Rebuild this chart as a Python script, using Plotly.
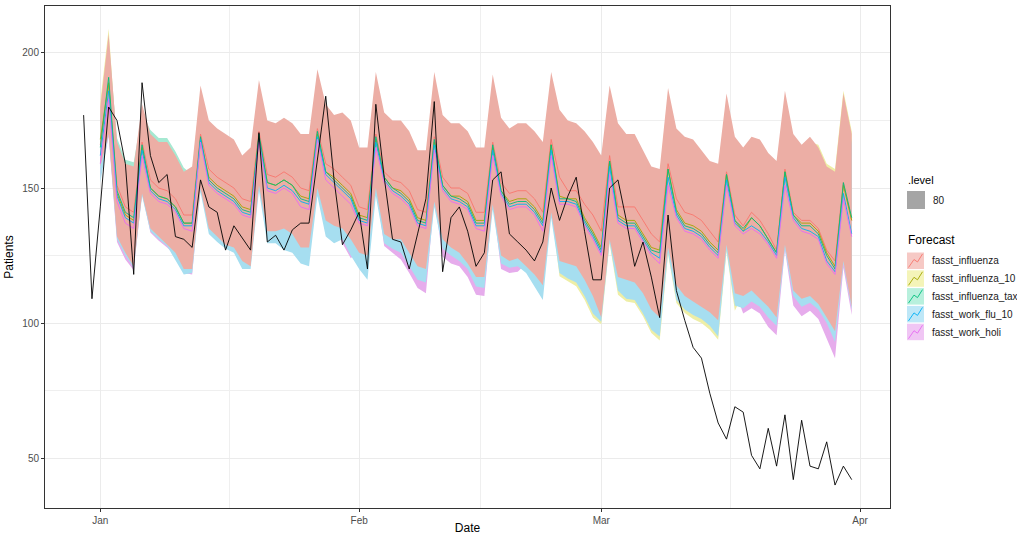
import plotly.graph_objects as go
import pandas as pd

# ---------------- data ----------------
actual_start = "2019-12-30"
forecast_start = "2020-01-01"

patients = [177, 109, 143, 180, 175, 159, 118, 189, 162, 152,
            155, 132, 131, 128, 153, 143, 141, 127, 136, 131.5,
            127, 170.5, 130, 132.5, 127, 134.5, 137, 137, 160, 184,
            153, 129, 134.5, 141, 120, 181, 154, 131, 130, 120,
            133, 146, 182, 119, 139, 143, 134, 121, 126, 153,
            156, 133, 130, 127, 123, 130, 150, 138, 147, 154,
            134, 116, 116, 150, 153, 138, 121, 130, 117, 102,
            140, 112, 101, 91, 87, 74, 63, 57, 69, 67,
            51, 46, 61, 47, 66, 42, 64, 47, 46, 56,
            40, 47, 42]

# fasst_influenza
infl_med = [166, 188, 151, 143, 141, 167, 153, 150, 149, 146,
            140, 140, 170, 157, 154, 152, 150, 146, 145, 171,
            155, 154, 156, 154, 150, 149, 172, 159, 157, 154,
            151, 143, 142, 170, 156, 153, 152, 149, 142, 141,
            169, 154, 150, 150, 148, 141, 141, 167, 152, 148,
            149, 149, 146, 141, 168, 154, 149, 149, 144, 140,
            134, 162, 143, 143, 143, 138, 133, 130, 159, 146,
            141, 140, 138, 134, 130, 156, 140, 136, 141, 138,
            133, 127, 157, 141, 138, 138, 135, 127, 123, 152,
            138]
infl_hi = [180, 207, 167, 159, 158, 181, 170, 167, 167, 162,
           156, 158, 188, 175, 172, 170, 168, 162, 165, 190,
           175, 174, 176, 174, 170, 170, 194, 181, 177, 178,
           175, 165, 165, 193, 178, 175, 175, 171, 164, 164,
           193, 177, 174, 174, 171, 165, 165, 192, 176, 172,
           174, 174, 171, 167, 193, 179, 175, 174, 171, 167,
           162, 188, 174, 170, 170, 164, 158, 157, 187, 172,
           169, 168, 164, 160, 159, 185, 169, 165, 169, 168,
           163, 160, 186, 170, 166, 169, 165, 158, 156, 185,
           170]
infl_lo = [158, 170, 132, 126, 121, 148, 135, 132, 129, 126,
           120, 120, 150, 135, 132, 129, 128, 123, 121, 151,
           134, 134, 135, 133, 128, 128, 150, 138, 136, 135,
           131, 126, 125, 150, 133, 131, 131, 126, 121, 120,
           145, 131, 128, 126, 122, 117, 117, 144, 125, 123,
           124, 121, 118, 114, 141, 123, 122, 121, 116, 110,
           102, 131, 117, 116, 115, 111, 105, 102, 128, 114,
           110, 108, 106, 104, 101, 129, 111, 110, 112, 109,
           106, 102, 129, 112, 109, 110, 107, 102, 97, 123,
           106]

# fasst_influenza_10
infl10_med = [168, 189, 148, 140, 138, 165, 150, 147, 146, 143,
              137, 137, 168, 154, 151, 149, 147, 143, 142, 169,
              152, 151, 153, 151, 147, 146, 170, 156, 154, 151,
              148, 140, 139, 168, 154, 150, 149, 146, 139, 138,
              167, 151, 147, 147, 145, 138, 138, 165, 149, 145,
              146, 146, 143, 138, 166, 147, 146, 146, 139, 134,
              128, 160, 140, 138, 138, 133, 128, 127, 157, 142,
              137, 136, 134, 130, 127, 155, 138, 134, 139, 136,
              131, 126, 156, 140, 137, 137, 134, 126, 121, 151,
              138]
infl10_hi = [182, 209, 165, 157, 156, 179, 168, 165, 165, 160,
             154, 156, 186, 173, 170, 168, 166, 160, 163, 188,
             173, 172, 174, 172, 168, 168, 192, 179, 175, 176,
             173, 163, 163, 191, 176, 173, 173, 169, 162, 162,
             191, 175, 172, 172, 169, 163, 163, 190, 174, 170,
             172, 172, 169, 165, 191, 177, 173, 172, 169, 165,
             160, 186, 172, 168, 168, 162, 156, 155, 185, 170,
             167, 166, 162, 158, 157, 183, 167, 163, 167, 166,
             161, 158, 184, 168, 164, 167, 166, 159, 157, 186,
             171]
infl10_lo = [159, 171, 133, 127, 122, 149, 136, 133, 130, 127,
             121, 121, 151, 136, 133, 130, 129, 124, 122, 152,
             135, 135, 136, 134, 129, 129, 151, 139, 137, 136,
             132, 127, 126, 151, 134, 132, 132, 127, 122, 121,
             146, 132, 129, 127, 123, 118, 118, 145, 126, 124,
             125, 122, 119, 115, 142, 117.3, 115.4, 113.6, 108.6, 102,
             99.5, 129.5, 110.5, 108, 107.4, 102.5, 96.3, 93.5, 125.5, 107.4,
             103.7, 101.5, 100, 97.5, 93.8, 126.5, 104.5, 111, 113, 110,
             107, 103, 130, 113, 110, 111, 108, 103, 98, 124,
             107]

# fasst_influenza_tax
tax_med = [165, 191, 149, 141, 139, 166, 150, 147, 146, 143,
           137, 137, 169, 153, 150, 148, 146, 142, 141, 170,
           152, 151, 153, 151, 146, 145, 171, 156, 153, 150,
           147, 139, 138, 169, 154, 150, 148, 145, 138, 137,
           168, 151, 147, 146, 144, 137, 137, 166, 149, 144,
           145, 145, 142, 137, 166, 146, 146, 145, 138, 133,
           127, 160, 139, 137, 137, 132, 127, 126, 157, 141,
           136, 135, 133, 129, 126, 155, 138, 135, 139, 136,
           131, 126, 156, 140, 136, 136, 133, 125, 120, 152,
           139]
tax_hi = [177, 204, 168.5, 160.5, 159.5, 178, 171.5, 168.5, 168.5, 163.5,
          157.5, 155, 185, 172, 169, 167, 165, 159, 162, 187,
          172, 171, 173, 171, 167, 167, 191, 178, 174, 175,
          172, 162, 162, 190, 175, 172, 172, 168, 161, 161,
          190, 174, 171, 171, 168, 162, 162, 189, 173, 169,
          171, 171, 168, 164, 190, 176, 172, 171, 168, 164,
          159, 185, 171, 167, 167, 161, 155, 154, 184, 169,
          166, 165, 161, 157, 156, 182, 166, 162, 166, 165,
          160, 157, 183, 167, 163, 166, 162, 155, 153, 182,
          167]
tax_lo = [159, 171, 133, 127, 122, 149, 136, 133, 130, 127,
          121, 121, 151, 136, 133, 130, 129, 124, 122, 152,
          135, 135, 136, 134, 129, 129, 151, 139, 137, 136,
          132, 127, 126, 151, 134, 132, 132, 127, 122, 121,
          146, 132, 129, 127, 123, 118, 118, 145, 126, 124,
          125, 122, 119, 115, 142, 124, 123, 122, 117, 111,
          103, 132, 118, 117, 116, 112, 106, 103, 129, 115,
          111, 109, 107, 105, 102, 130, 112, 111, 113, 110,
          107, 103, 130, 113, 110, 111, 108, 103, 98, 124,
          107]

# fasst_work_flu_10
flu10_med = [162, 186, 147, 139, 137, 164, 149, 146, 145, 142,
             136, 136, 168, 152, 149, 147, 145, 141, 140, 168,
             150, 149, 151, 149, 145, 144, 169, 155, 152, 149,
             146, 138, 137, 167, 153, 149, 147, 144, 137, 136,
             166, 150, 146, 145, 143, 136, 136, 164, 148, 143,
             144, 144, 141, 136, 164, 145, 145, 144, 137, 132,
             126, 158, 138, 136, 136, 131, 126, 124, 154, 140,
             135, 134, 132, 128, 125, 153, 137, 134, 136, 134,
             130, 125, 154, 139, 135, 134, 132, 123, 119, 148,
             133]
flu10_hi = [176, 203, 163, 155, 154, 177, 166, 163, 163, 158,
            152, 154, 184, 171, 168, 166, 164, 158, 161, 186,
            171, 170, 172, 170, 166, 166, 190, 177, 173, 174,
            171, 161, 161, 189, 174, 171, 171, 167, 160, 160,
            189, 173, 170, 170, 167, 161, 161, 188, 172, 168,
            170, 170, 167, 163, 189, 175, 171, 170, 167, 163,
            158, 184, 170, 166, 166, 160, 154, 153, 183, 168,
            165, 164, 160, 156, 155, 181, 165, 161, 165, 164,
            159, 156, 182, 166, 162, 165, 161, 154, 152, 181,
            166]
flu10_lo = [152, 170, 131, 125, 120.5, 147, 134, 131, 128.5, 123.5,
            118, 118.5, 148.5, 133, 130, 127.5, 126, 120, 120, 149,
            129.5, 129.5, 127, 126, 122, 121, 147, 132, 129.5, 131,
            125, 120, 116, 147, 129.5, 127.5, 126, 121, 116, 115,
            143, 127.5, 125, 123, 120, 113.5, 113, 142, 122, 120.5,
            121, 118.5, 113.5, 108.5, 139, 118.5, 116.5, 115, 110, 103.5,
            100.5, 130, 112, 109, 108.5, 103.5, 97.5, 95, 126, 108.5,
            105, 103, 101.5, 99, 95, 127, 106.5, 105.5, 108, 106,
            102, 99, 127.5, 110, 106, 107.5, 105, 100, 93, 122,
            105]

# fasst_work_holi
holi_med = [159, 183, 145, 137, 135, 162, 148, 145, 144, 141,
            135, 134, 167, 151, 148, 146, 144, 140, 139, 167,
            149, 148, 150, 148, 143, 142, 168, 153, 150, 147,
            144, 137, 136, 165, 152, 148, 146, 143, 136, 135,
            164, 149, 145, 144, 142, 135, 134, 162, 147, 142,
            143, 143, 140, 134, 162, 144, 144, 143, 136, 131,
            125, 155, 137, 135, 135, 130, 125, 122, 151, 139,
            134, 133, 131, 127, 124, 151, 136, 133, 135, 133,
            129, 124, 151, 138, 134, 133, 131, 122, 118, 146,
            132]
holi_hi = [175, 202, 162, 154, 153, 176, 165, 162, 162, 157,
           151, 153, 183, 170, 167, 165, 163, 157, 160, 185,
           170, 169, 171, 169, 165, 165, 189, 176, 172, 173,
           170, 160, 160, 188, 173, 170, 170, 166, 159, 159,
           188, 172, 169, 169, 166, 160, 160, 187, 171, 167,
           169, 169, 166, 162, 188, 174, 170, 169, 166, 162,
           157, 183, 169, 165, 165, 159, 153, 152, 182, 167,
           164, 163, 159, 155, 154, 180, 164, 160, 164, 163,
           158, 155, 181, 165, 161, 164, 160, 153, 151, 180,
           165]
holi_lo = [154, 169, 130, 123.5, 119.5, 148, 133.5, 130.5, 128, 125,
           118.5, 118, 151, 136, 133, 130, 129, 124, 122, 152,
           135, 135, 136, 134, 129, 129, 151, 139, 137, 129.5,
           124, 127, 126, 151, 128.5, 126, 123.5, 118.5, 113, 111,
           146, 124.5, 122, 121, 117, 110.5, 110, 145, 120, 118.5,
           119, 122, 119, 115, 142, 124, 123, 122, 117, 111,
           103, 132, 118, 117, 116, 112, 106, 103, 129, 115,
           111, 109, 107, 105, 102, 130, 112, 103.5, 105.5, 103.5,
           98.5, 95.5, 127, 106.5, 102.5, 104.5, 101.5, 94.5, 87, 120.5,
           103]

model_names = ["fasst_influenza", "fasst_influenza_10", "fasst_influenza_tax",
               "fasst_work_flu_10", "fasst_work_holi"]
line_colors = ["#F8766D", "#A3A500", "#00BF7D", "#00B0F6", "#E76BF3"]
band_colors = ["#ECAEA5", "#EEEEA6", "#A6E9D2", "#A6DEF0", "#E6ACEC"]
key_colors = ["#F6C9C5", "#F4F4B8", "#B8F0DD", "#BEE7F7", "#F0C6F4"]

x_ticks = ["2020-01-01", "2020-02-01", "2020-03-01", "2020-04-01"]
x_tick_text = ["Jan", "Feb", "Mar", "Apr"]
y_ticks = [50, 100, 150, 200]

# ---------------- build ----------------
dates_actual = pd.date_range(actual_start, periods=len(patients), freq="D")
dates_fc = pd.date_range(forecast_start, periods=len(infl_med), freq="D")

meds = [infl_med, infl10_med, tax_med, flu10_med, holi_med]
his = [infl_hi, infl10_hi, tax_hi, flu10_hi, holi_hi]
los = [infl_lo, infl10_lo, tax_lo, flu10_lo, holi_lo]

fig = go.Figure()

# bands (opaque), layered: yellow, pink, green, blue, red on top
for i in [1, 4, 2, 3, 0]:
    fig.add_trace(go.Scatter(x=dates_fc, y=los[i], mode="lines", line=dict(width=0),
                             showlegend=False, hoverinfo="skip"))
    fig.add_trace(go.Scatter(x=dates_fc, y=his[i], mode="lines", line=dict(width=0),
                             fill="tonexty", fillcolor=band_colors[i],
                             showlegend=False, hoverinfo="skip", name=model_names[i]))

# median lines
for i in range(5):
    fig.add_trace(go.Scatter(x=dates_fc, y=meds[i], mode="lines",
                             line=dict(color=line_colors[i], width=0.9),
                             showlegend=False, name=model_names[i]))

# actual
fig.add_trace(go.Scatter(x=dates_actual, y=patients, mode="lines",
                         line=dict(color="black", width=0.9), showlegend=False,
                         name="Patients"))

# minor grid at midpoints between month ticks
tick_ts = pd.to_datetime(x_ticks)
x_minor = [(tick_ts[k] + (tick_ts[k + 1] - tick_ts[k]) / 2).strftime("%Y-%m-%d %H:%M")
           for k in range(len(tick_ts) - 1)]

W, H = 1017, 535
L, R, T, B = 45, 127, 6, 27
pw, ph = W - L - R, H - T - B


def px(x):
    return (x - L) / pw


def py(y):
    return (H - B - y) / ph


shapes = []
annotations = []
font_fam = "Liberation Sans, Arial, sans-serif"

# ---- legend: .level ----
annotations.append(dict(xref="paper", yref="paper", x=px(906), y=py(180), text=".level",
                        showarrow=False, xanchor="left", yanchor="middle",
                        font=dict(family=font_fam, size=11, color="black")))
shapes.append(dict(type="rect", xref="paper", yref="paper", x0=px(907), x1=px(925),
                   y0=py(209), y1=py(191), fillcolor="#A5A5A5", line=dict(width=0)))
annotations.append(dict(xref="paper", yref="paper", x=px(931), y=py(200), text="80",
                        showarrow=False, xanchor="left", yanchor="middle",
                        font=dict(family=font_fam, size=10, color="#1A1A1A")))

# ---- legend: Forecast ----
annotations.append(dict(xref="paper", yref="paper", x=px(906), y=py(240), text="Forecast",
                        showarrow=False, xanchor="left", yanchor="middle",
                        font=dict(family=font_fam, size=12, color="black")))
row_top = 252.5
row_h = 17.8
for i in range(5):
    y0 = row_top + i * row_h
    y1 = y0 + 16.5
    shapes.append(dict(type="rect", xref="paper", yref="paper", x0=px(907), x1=px(924),
                       y0=py(y1), y1=py(y0), fillcolor=key_colors[i], line=dict(width=0)))
    pts = [(908.5, y1 - 1.5), (914, y0 + 7), (917.5, y0 + 9.5), (922.5, y0 + 1.5)]
    path = "M " + " L ".join(f"{px(a):.5f},{py(b):.5f}" for a, b in pts)
    shapes.append(dict(type="path", xref="paper", yref="paper", path=path,
                       line=dict(color=line_colors[i], width=0.9)))
    annotations.append(dict(xref="paper", yref="paper", x=px(930), y=py(y0 + 8.3),
                            text=model_names[i], showarrow=False, xanchor="left",
                            yanchor="middle",
                            font=dict(family=font_fam, size=10, color="#1A1A1A")))

fig.update_layout(
    width=W, height=H, autosize=False,
    margin=dict(l=L, r=R, t=T, b=B, pad=0),
    paper_bgcolor="white", plot_bgcolor="white",
    font=dict(family=font_fam, size=10, color="#4D4D4D"),
    showlegend=False,
    shapes=shapes, annotations=annotations,
    xaxis=dict(
        type="date",
        range=["2019-12-25 09:00", "2020-04-04 14:00"],
        tickmode="array", tickvals=x_ticks, ticktext=x_tick_text,
        showgrid=True, gridcolor="#EBEBEB", gridwidth=1,
        minor=dict(tickmode="array", tickvals=x_minor, showgrid=True,
                   gridcolor="#EFEFEF", gridwidth=0.7, ticks=""),
        ticks="outside", ticklen=3, tickwidth=1, tickcolor="#333333",
        tickfont=dict(family=font_fam, size=10, color="#4D4D4D"),
        showline=True, linecolor="#333333", linewidth=1, mirror=True,
        zeroline=False, automargin=False,
        title=dict(text="Date", font=dict(family=font_fam, size=12, color="black"), standoff=5),
    ),
    yaxis=dict(
        range=[31.5, 217.4],
        tickmode="array", tickvals=y_ticks,
        showgrid=True, gridcolor="#EBEBEB", gridwidth=1,
        minor=dict(tick0=25, dtick=25, showgrid=True, gridcolor="#EFEFEF",
                   gridwidth=0.7, ticks=""),
        ticks="outside", ticklen=3, tickwidth=1, tickcolor="#333333",
        tickfont=dict(family=font_fam, size=10, color="#4D4D4D"),
        showline=True, linecolor="#333333", linewidth=1, mirror=True,
        zeroline=False, automargin=False,
        title=dict(text="Patients", font=dict(family=font_fam, size=12, color="black"), standoff=6),
    ),
)

fig.write_html("out.html",
               config={"displayModeBar": False},
               post_script="document.body.style.margin='0';document.body.style.overflow='hidden';")
